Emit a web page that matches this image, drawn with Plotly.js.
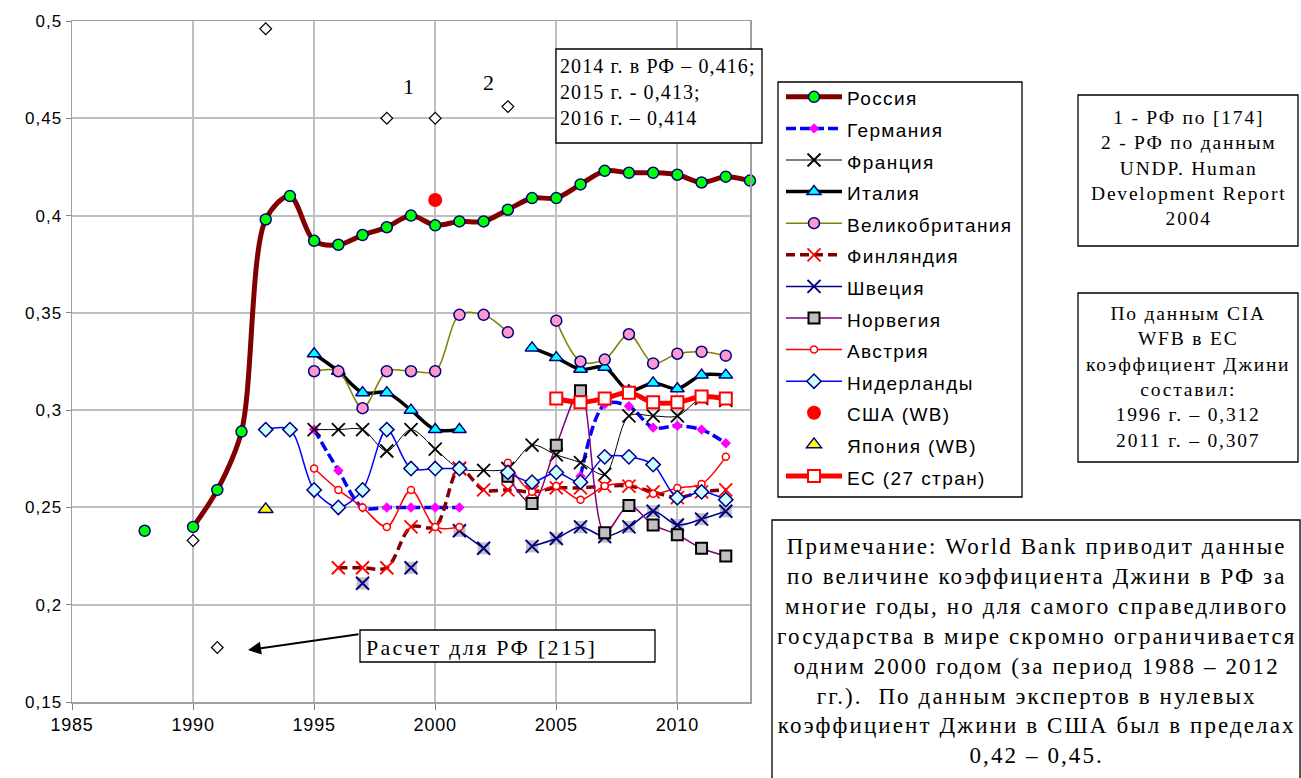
<!DOCTYPE html>
<html>
<head>
<meta charset="utf-8">
<script src="https://cdn.plot.ly/plotly-3.0.1.min.js"></script>
<style>html,body{margin:0;padding:0;background:#fff;}#chart{width:1301px;height:778px;}</style>
</head>
<body>
<div id="chart"></div>
<script>
// ---- data ----
var years = [1988,1989,1990,1991,1992,1993,1994,1995,1996,1997,1998,1999,2000,2001,2002,2003,2004,2005,2006,2007,2008,2009,2010,2011,2012,2013];
var russia      = [0.238,null,0.240,0.259,0.289,0.398,0.410,0.387,0.385,0.390,0.394,0.400,0.395,0.397,0.397,0.403,0.409,0.409,0.416,0.423,0.422,0.422,0.421,0.417,0.420,0.418];
var germany     = [null,null,null,null,null,null,null,0.290,0.269,0.250,0.250,0.250,0.250,0.250,null,null,null,null,0.266,0.303,0.302,0.291,0.292,0.290,0.283,null];
var france      = [null,null,null,null,null,null,null,0.290,0.290,0.290,0.279,0.290,0.280,0.270,0.269,0.270,0.282,0.277,0.273,0.267,0.297,0.297,0.297,0.306,0.305,null];
var italy       = [null,null,null,null,null,null,null,0.329,0.320,0.309,0.309,0.300,0.290,0.290,null,null,0.332,0.327,0.321,0.322,0.310,0.314,0.311,0.318,0.318,null];
var uk          = [null,null,null,null,null,null,null,0.320,0.320,0.301,0.320,0.320,0.320,0.349,0.349,0.340,null,0.346,0.325,0.326,0.339,0.324,0.329,0.330,0.328,null];
var finland     = [null,null,null,null,null,null,null,null,0.219,0.219,0.219,0.240,0.240,0.270,0.259,0.259,0.258,0.260,0.260,0.261,0.261,0.258,0.255,0.258,0.259,null];
var sweden      = [null,null,null,null,null,null,null,null,null,0.211,null,0.219,null,0.238,0.229,null,0.230,0.234,0.240,0.235,0.240,0.248,0.241,0.244,0.248,null];
var norway      = [null,null,null,null,null,null,null,null,null,null,null,null,null,null,null,0.266,0.252,0.282,0.310,0.237,0.251,0.241,0.236,0.229,0.225,null];
var austria     = [null,null,null,null,null,null,null,0.270,0.259,0.250,0.240,0.259,0.240,0.240,null,0.273,0.258,0.261,0.254,0.261,0.262,0.257,0.260,0.262,0.276,null];
var netherlands = [null,null,null,null,null,0.290,0.290,0.259,0.250,0.259,0.290,0.270,0.270,0.270,null,0.268,0.263,0.268,0.263,0.276,0.276,0.272,0.255,0.258,0.254,null];
var eu27        = [null,null,null,null,null,null,null,null,null,null,null,null,null,null,null,null,null,0.306,0.304,0.306,0.309,0.304,0.304,0.307,0.306,null];
var usaYears = [2000], usaVals = [0.408];
var japanYears = [1993], japanVals = [0.249];
var otherRFYears = [1990,1991,1993,1998,2000,2003];
var otherRFVals  = [0.233,0.178,0.496,0.450,0.450,0.456];

var names = ['Россия','Германия','Франция','Италия','Великобритания','Финляндия','Швеция','Норвегия','Австрия','Нидерланды','США (WB)','Япония (WB)','ЕС (27 стран)'];
var xTicks = [1985,1990,1995,2000,2005,2010];
var xTickText = ['1985','1990','1995','2000','2005','2010'];
var yTicks = [0.15,0.2,0.25,0.3,0.35,0.4,0.45,0.5];
var yTickText = ['0,15','0,2','0,25','0,3','0,35','0,4','0,45','0,5'];

// ---- geometry helpers (pixel -> paper) ----
var L=72, R=750, T=21, B=702;
function px(x){return (x-L)/(R-L);}
function py(y){return (B-y)/(B-T);}
function sp(s,size,ls){
  return s.split('<br>').map(function(t){return '<span style="'+(size?'font-size:'+size+'px;':'')+'letter-spacing:'+ls+'px">'+t+'</span>';}).join('<br>');
}
function nm(s){return sp(s,19,1.4);}

function ln(color,width,dash){var o={color:color,width:width,shape:'spline',smoothing:0.9}; if(dash) o.dash=dash; return o;}

var traces = [
 {x:years,y:russia,name:nm(names[0]),mode:'lines+markers',connectgaps:false,cliponaxis:false,line:ln('#800000',5),
  marker:{symbol:'circle',size:11,color:'#00ff00',line:{color:'#000080',width:1.5}}},
 {x:years,y:germany,name:nm(names[1]),mode:'lines+markers',connectgaps:false,line:ln('#0000ff',3.5,'10px,4px'),
  marker:{symbol:'diamond',size:8,color:'#ff00ff',line:{width:0}}},
 {x:years,y:france,name:nm(names[2]),mode:'lines+markers',connectgaps:false,line:ln('#000000',1),
  marker:{symbol:'x-thin',size:13,color:'#000000',line:{color:'#000000',width:1.8}}},
 {x:years,y:italy,name:nm(names[3]),mode:'lines+markers',connectgaps:false,line:ln('#000000',3.5),
  marker:{symbol:'triangle-up',size:12,color:'#00ffff',line:{color:'#000080',width:1.5}}},
 {x:years,y:uk,name:nm(names[4]),mode:'lines+markers',connectgaps:false,line:ln('#808000',1.5),
  marker:{symbol:'circle',size:11,color:'#ff99cc',line:{color:'#000080',width:1.5}}},
 {x:years,y:finland,name:nm(names[5]),mode:'lines+markers',connectgaps:false,line:ln('#800000',3.5,'9px,5px'),
  marker:{symbol:'x-thin',size:13,color:'#ff0000',line:{color:'#ff0000',width:1.8}}},
 {x:years,y:sweden,name:'sq',showlegend:false,mode:'markers',hoverinfo:'skip',
  marker:{symbol:'square',size:12,color:'#c0c0c0',line:{width:0}}},
 {x:years,y:sweden,name:nm(names[6]),mode:'lines+markers',connectgaps:false,line:ln('#000080',1.5),
  marker:{symbol:'x-thin',size:13,color:'#000080',line:{color:'#000080',width:2}}},
 {x:years,y:norway,name:nm(names[7]),mode:'lines+markers',connectgaps:false,line:ln('#800080',1.5),
  marker:{symbol:'square',size:11,color:'#c0c0c0',line:{color:'#000000',width:2}}},
 {x:years,y:austria,name:nm(names[8]),mode:'lines+markers',connectgaps:false,line:ln('#ff0000',1.5),
  marker:{symbol:'circle',size:7,color:'#ffffff',line:{color:'#ff0000',width:1.5}}},
 {x:years,y:netherlands,name:nm(names[9]),mode:'lines+markers',connectgaps:false,line:ln('#0000ff',1.5),
  marker:{symbol:'diamond',size:11,color:'#ccffff',line:{color:'#000080',width:1.5}}},
 {x:usaYears,y:usaVals,name:nm(names[10]),mode:'markers',marker:{symbol:'circle',size:14,color:'#ff0000',line:{width:0}}},
 {x:japanYears,y:japanVals,name:nm(names[11]),mode:'markers',marker:{symbol:'triangle-up',size:13,color:'#ffff00',line:{color:'#000080',width:1.5}}},
 {x:years,y:eu27,name:nm(names[12]),mode:'lines+markers',connectgaps:false,line:ln('#ff0000',5),
  marker:{symbol:'square',size:12,color:'#ffffff',line:{color:'#ff0000',width:2}}},
 {x:otherRFYears,y:otherRFVals,name:'other',showlegend:false,mode:'markers',cliponaxis:false,
  marker:{symbol:'diamond',size:9,color:'#ffffff',line:{color:'#000000',width:1.2}}}
];

var serif = 'Liberation Serif, Times New Roman, serif';
var sans = 'Liberation Sans, Arial, sans-serif';

function box(x0,y0,x1,y1){return {type:'rect',xref:'paper',yref:'paper',x0:px(x0),x1:px(x1),y0:py(y1),y1:py(y0),
  fillcolor:'#ffffff',line:{color:'#000000',width:1.3},layer:'above'};}

var shapes = [
  box(556,49,762,143),
  box(778,82,1022,497),
  box(1078,95,1298,246),
  box(1078,293,1298,462),
  box(772,520,1300,800),
  box(360,630,655,662)
];

var annotations = [
 {xref:'paper',yref:'paper',x:px(558),y:py(53),xanchor:'left',yanchor:'top',align:'left',showarrow:false,
  text:sp('2014 г. в РФ – 0,416;<br>2015 г. - 0,413;<br>2016 г. – 0,414',null,1.1),font:{family:serif,size:20,color:'#000'}},
 {xref:'paper',yref:'paper',x:px(1188),y:py(168),xanchor:'center',yanchor:'middle',align:'center',showarrow:false,
  text:sp('1 - РФ по [174]<br>2 - РФ по данным<br>UNDP. Human<br>Development Report<br>2004',null,1.8),font:{family:serif,size:19.5,color:'#000'}},
 {xref:'paper',yref:'paper',x:px(1188),y:py(377),xanchor:'center',yanchor:'middle',align:'center',showarrow:false,
  text:sp('По данным CIA<br>WFB в ЕС<br>коэффициент Джини<br>составил:<br>1996 г. – 0,312<br>2011 г. – 0,307',null,1.8),font:{family:serif,size:19.5,color:'#000'}},
 {xref:'paper',yref:'paper',x:px(1036),y:py(532),xanchor:'center',yanchor:'top',align:'center',showarrow:false,
  text:sp('Примечание: World Bank приводит данные<br>по величине коэффициента Джини в РФ за<br>многие годы, но для самого справедливого<br>государства в мире скромно ограничивается<br>одним 2000 годом (за период 1988 – 2012<br>гг.).  По данным экспертов в нулевых<br>коэффициент Джини в США был в пределах<br>0,42 – 0,45.',null,2.1),
  font:{family:serif,size:23,color:'#000'}},
 {xref:'paper',yref:'paper',x:px(364),y:py(647),xanchor:'left',yanchor:'middle',showarrow:false,
  text:sp('Расчет для РФ [215]',null,2.3),font:{family:serif,size:22,color:'#000'}},
 {xref:'paper',yref:'paper',x:px(248),y:py(650),text:'',showarrow:true,ax:112,ay:-16,arrowhead:2,arrowsize:1.3,arrowwidth:2,arrowcolor:'#000',standoff:0},
 {xref:'paper',yref:'paper',x:px(408),y:py(87),xanchor:'center',yanchor:'middle',showarrow:false,text:'1',font:{family:serif,size:22,color:'#000'}},
 {xref:'paper',yref:'paper',x:px(489),y:py(82),xanchor:'center',yanchor:'middle',showarrow:false,text:'2',font:{family:serif,size:22,color:'#000'}}
];

var layout = {
  width:1301, height:778,
  margin:{l:L, r:1301-R, t:T, b:778-B, pad:0},
  paper_bgcolor:'#ffffff', plot_bgcolor:'#ffffff',
  separators:', ',
  showlegend:true,
  legend:{x:px(781),y:py(76),xanchor:'left',yanchor:'top',bgcolor:'rgba(0,0,0,0)',borderwidth:0,
    font:{family:sans,size:22,color:'#000'},itemwidth:56,traceorder:'normal'},
  xaxis:{range:[1985,2013],tickvals:xTicks,ticktext:xTickText.map(function(t){return sp(t,18,0.8);}),showgrid:true,gridcolor:'#bfbfbf',gridwidth:2,
    showline:true,linecolor:'#a0a0a0',linewidth:1.5,mirror:true,zeroline:false,ticks:'outside',ticklen:6,tickcolor:'#808080',
    tickfont:{family:sans,size:18,color:'#000'}},
  yaxis:{range:[0.15,0.5],tickvals:yTicks,ticktext:yTickText.map(function(t){return sp(t,null,1);}),showgrid:true,gridcolor:'#bfbfbf',gridwidth:2,
    showline:true,linecolor:'#a0a0a0',linewidth:1.5,mirror:true,zeroline:false,ticks:'outside',ticklen:5,tickcolor:'#808080',
    tickfont:{family:sans,size:17,color:'#000'}},
  shapes:shapes,
  annotations:annotations
};

Plotly.newPlot('chart', traces, layout, {displayModeBar:false, staticPlot:true});
</script>
</body>
</html>
